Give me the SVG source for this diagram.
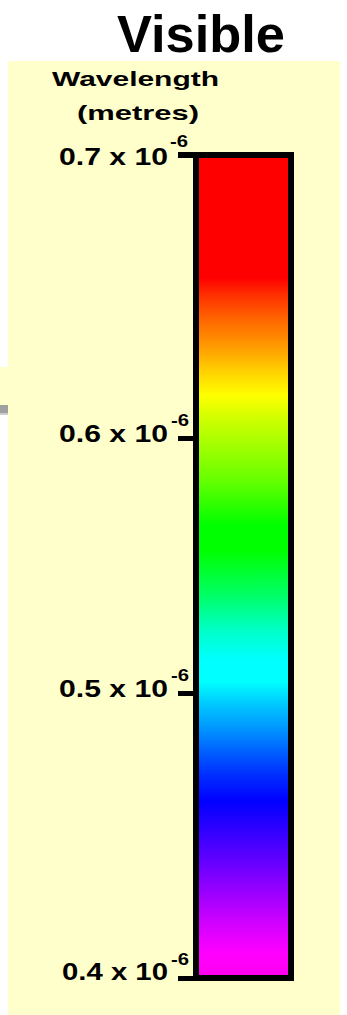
<svg xmlns="http://www.w3.org/2000/svg" width="347" height="1015" viewBox="0 0 347 1015">
  <style>
    .t{font-family:"Liberation Sans",Arial,sans-serif;font-weight:bold;fill:#000}
    .lab{font-size:23px}
    .sup{font-size:16px}
    .tick{fill:#000}
  </style>
  <defs>
    <linearGradient id="spec" x1="0" y1="0" x2="0" y2="1">
      <stop offset="0" stop-color="#ff0000"/>
      <stop offset="0.149" stop-color="#ff0000"/>
      <stop offset="0.172" stop-color="#ff3300"/>
      <stop offset="0.200" stop-color="#ff6600"/>
      <stop offset="0.232" stop-color="#ff9900"/>
      <stop offset="0.260" stop-color="#ffcc00"/>
      <stop offset="0.292" stop-color="#ffff00"/>
      <stop offset="0.322" stop-color="#ccff00"/>
      <stop offset="0.360" stop-color="#99ff00"/>
      <stop offset="0.395" stop-color="#66ff00"/>
      <stop offset="0.450" stop-color="#00ff00"/>
      <stop offset="0.480" stop-color="#00ff00"/>
      <stop offset="0.535" stop-color="#00ff66"/>
      <stop offset="0.580" stop-color="#00ffcc"/>
      <stop offset="0.614" stop-color="#00ffff"/>
      <stop offset="0.640" stop-color="#00ffff"/>
      <stop offset="0.665" stop-color="#00ccff"/>
      <stop offset="0.695" stop-color="#0099ff"/>
      <stop offset="0.722" stop-color="#0066ff"/>
      <stop offset="0.750" stop-color="#0033ff"/>
      <stop offset="0.785" stop-color="#0000ff"/>
      <stop offset="0.822" stop-color="#3300ff"/>
      <stop offset="0.860" stop-color="#6600ff"/>
      <stop offset="0.895" stop-color="#9900ff"/>
      <stop offset="0.930" stop-color="#cc00ff"/>
      <stop offset="0.970" stop-color="#ff00ff"/>
      <stop offset="1" stop-color="#ff00ee"/>
    </linearGradient>
  </defs>
  <rect x="0" y="0" width="347" height="1015" fill="#ffffff"/>
  <rect x="8" y="61" width="332" height="954" fill="#ffffcc"/>
  <rect x="0" y="367" width="8" height="38" fill="#ffffcc"/>
  <rect x="0" y="405" width="8" height="8" fill="#a0a0a0"/>
  <rect x="0" y="413" width="8" height="2" fill="#cccccc"/>

  <g id="title">
    <text class="t" x="117" y="52" font-size="52" textLength="168" lengthAdjust="spacingAndGlyphs">Visible</text>
  </g>
  <g id="axis-title">
    <text class="t" x="52" y="86" font-size="21" textLength="167" lengthAdjust="spacingAndGlyphs">Wavelength</text>
    <text class="t" x="77" y="120" font-size="21" textLength="122" lengthAdjust="spacingAndGlyphs">(metres)</text>
  </g>

  <g id="spectrum-bar">
    <rect x="196" y="155" width="95" height="823" fill="url(#spec)" stroke="#000" stroke-width="6"/>
  </g>

  <g id="ticks">
    <rect class="tick" x="178" y="152" width="18" height="6"/>
    <rect class="tick" x="178" y="436" width="18" height="5"/>
    <rect class="tick" x="178" y="691" width="18" height="5"/>
    <rect class="tick" x="178" y="976" width="18" height="5"/>
  </g>

  <g id="label-07">
    <text class="t lab" x="59" y="165" textLength="109" lengthAdjust="spacingAndGlyphs">0.7 x 10</text>
    <text class="t sup" x="170" y="147" textLength="18" lengthAdjust="spacingAndGlyphs">-6</text>
  </g>
  <g id="label-06">
    <text class="t lab" x="59" y="442" textLength="109" lengthAdjust="spacingAndGlyphs">0.6 x 10</text>
    <text class="t sup" x="171" y="426" textLength="18" lengthAdjust="spacingAndGlyphs">-6</text>
  </g>
  <g id="label-05">
    <text class="t lab" x="59" y="697" textLength="109" lengthAdjust="spacingAndGlyphs">0.5 x 10</text>
    <text class="t sup" x="171" y="681" textLength="18" lengthAdjust="spacingAndGlyphs">-6</text>
  </g>
  <g id="label-04">
    <text class="t lab" x="62" y="980" textLength="106" lengthAdjust="spacingAndGlyphs">0.4 x 10</text>
    <text class="t sup" x="171" y="965" textLength="18" lengthAdjust="spacingAndGlyphs">-6</text>
  </g>
</svg>
